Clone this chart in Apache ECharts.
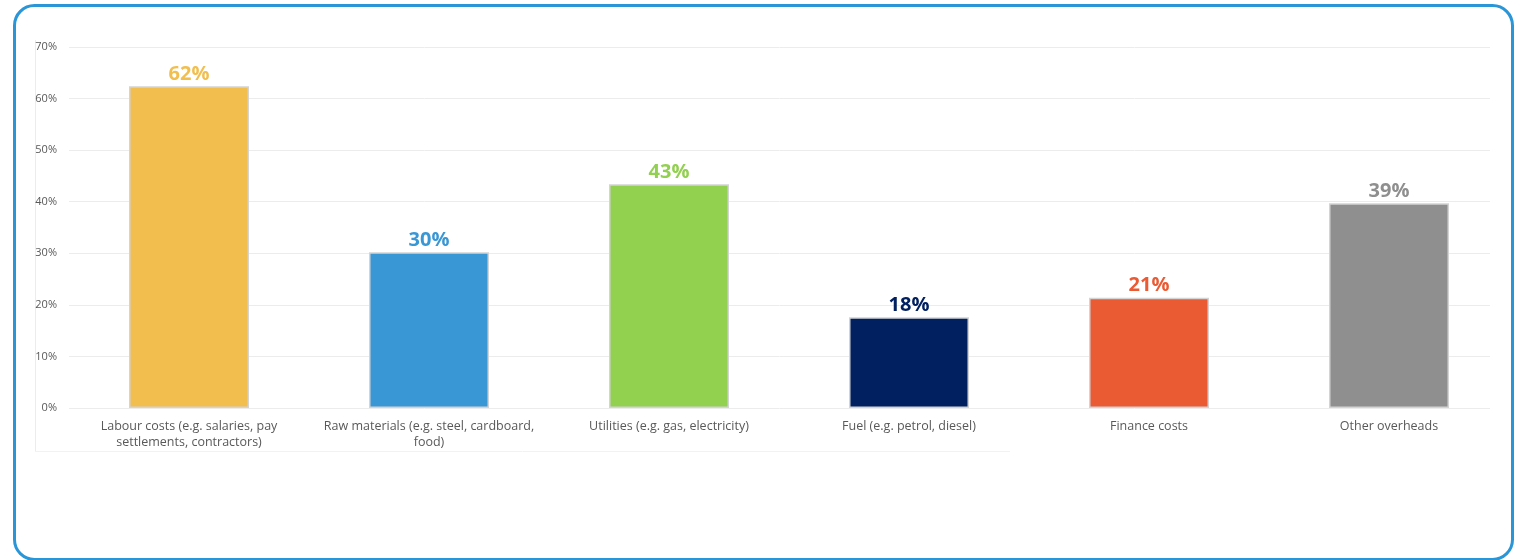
<!DOCTYPE html>
<html>
<head>
<meta charset="UTF-8">
<script src="https://cdn.jsdelivr.net/npm/echarts@6/dist/echarts.min.js"></script>
<style>
  html, body { margin: 0; padding: 0; background: #fff; }
  #main { width: 1517px; height: 560px; }
</style>
</head>
<body>
<div id="main"></div>
<script>
// cost categories and share of businesses (bar heights)
var categories = [
  'Labour costs (e.g. salaries, pay\nsettlements, contractors)',
  'Raw materials (e.g. steel, cardboard,\nfood)',
  'Utilities (e.g. gas, electricity)',
  'Fuel (e.g. petrol, diesel)',
  'Finance costs',
  'Other overheads'
];
var values = [62.4, 30.2, 43.4, 17.6, 21.4, 39.7];
var valueLabels = ['62%', '30%', '43%', '18%', '21%', '39%'];
var barColors = ['#f2be4e', '#3a97d6', '#92d050', '#002060', '#ea5b34', '#8f8f8f'];
var yTicks = [0, 10, 20, 30, 40, 50, 60, 70];

var myChart = echarts.init(document.getElementById('main'));

var barData = [];
for (var i = 0; i < values.length; i++) {
  barData.push({
    value: values[i],
    itemStyle: { color: barColors[i] },
    label: { color: barColors[i] }
  });
}

var yMin = yTicks[0], yMax = yTicks[yTicks.length - 1];

var option = {
  animation: false,
  textStyle: { fontFamily: 'Open Sans' },
  graphic: [
    {
      // outer rounded frame
      type: 'rect',
      left: 12, top: 3,
      shape: { width: 1498, height: 554, r: 20 },
      style: { fill: 'none', stroke: '#2a96d8', lineWidth: 3 },
      z: 100
    },
    {
      type: 'line',
      shape: { x1: 35.5, y1: 40, x2: 35.5, y2: 451 },
      style: { stroke: '#ececec', lineWidth: 1 }
    },
    {
      type: 'line',
      shape: { x1: 35, y1: 451.5, x2: 1010, y2: 451.5 },
      style: { stroke: '#f2f2f2', lineWidth: 1 }
    }
  ],
  grid: [
    // bars
    { left: 69, right: 8, top: 47, bottom: 152 },
    // gridlines only (shorter than the category band)
    { left: 69, right: 27, top: 47, bottom: 152 }
  ],
  xAxis: [{
    type: 'category',
    gridIndex: 0,
    data: categories,
    axisLine: { show: false },
    axisTick: { show: false },
    axisLabel: {
      interval: 0,
      color: '#595959',
      fontSize: 12.5,
      lineHeight: 16,
      margin: 10
    }
  }, {
    type: 'value',
    gridIndex: 1,
    show: false
  }],
  yAxis: [{
    type: 'value',
    gridIndex: 0,
    min: yMin,
    max: yMax,
    interval: 10,
    axisLine: { show: false },
    axisTick: { show: false },
    splitLine: { show: false },
    axisLabel: {
      color: '#595959',
      fontSize: 11,
      margin: 12,
      formatter: function (v) { return v + '%'; }
    }
  }, {
    type: 'value',
    gridIndex: 1,
    min: yMin,
    max: yMax,
    interval: 10,
    axisLine: { show: false },
    axisTick: { show: false },
    axisLabel: { show: false },
    splitLine: { lineStyle: { color: '#ececec', width: 1 } }
  }],
  series: [{
    type: 'bar',
    xAxisIndex: 0,
    yAxisIndex: 0,
    barWidth: 120,
    data: barData,
    itemStyle: {
      borderColor: '#d4d4d4',
      borderWidth: 1.5
    },
    label: {
      show: true,
      position: 'top',
      distance: 2,
      fontSize: 20,
      fontWeight: 'bold',
      formatter: function (p) { return valueLabels[p.dataIndex]; }
    }
  }]
};

myChart.setOption(option);
</script>
</body>
</html>
